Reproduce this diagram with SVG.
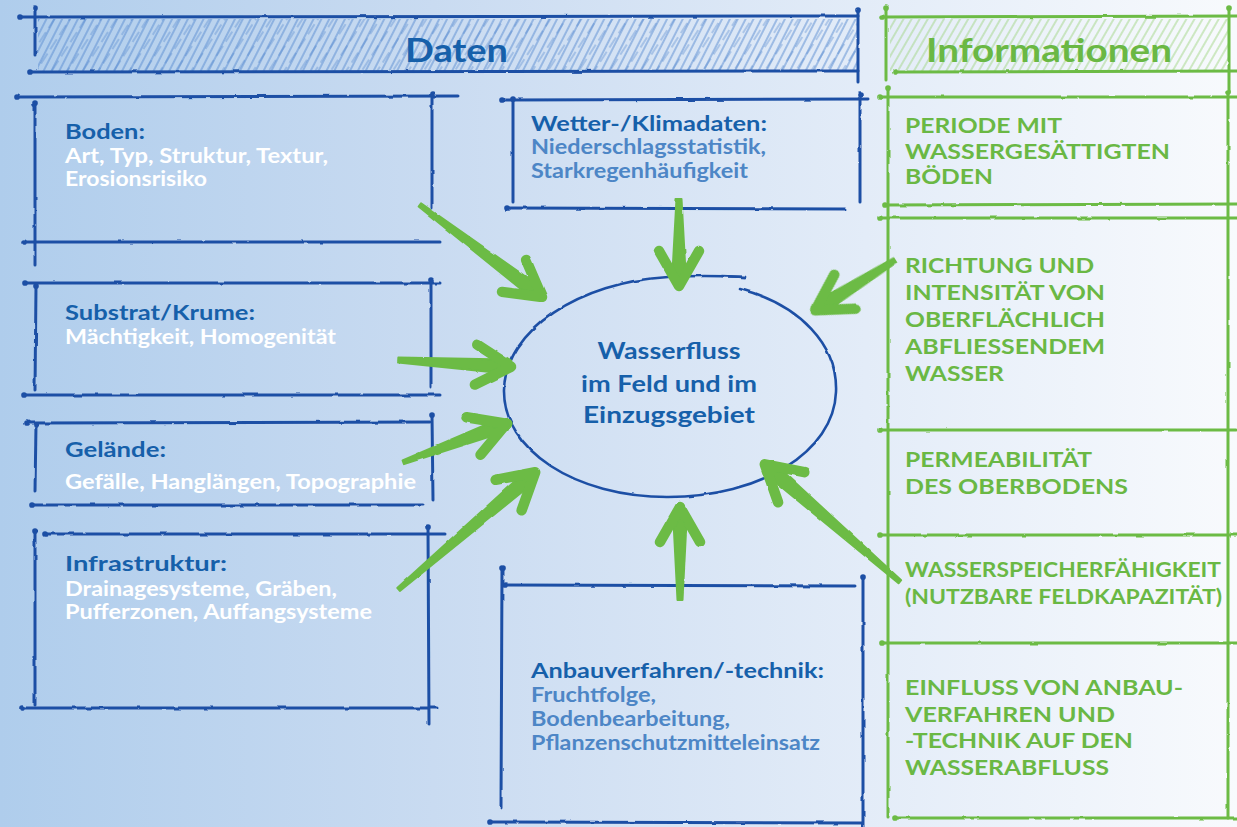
<svg xmlns="http://www.w3.org/2000/svg" xmlns:xlink="http://www.w3.org/1999/xlink" width="1237" height="827" viewBox="0 0 1237 827">
  <defs>
    <linearGradient id="bg" x1="0" y1="0" x2="1" y2="0">
      <stop offset="0" stop-color="#afcdec"/>
      <stop offset="0.35" stop-color="#c9dbf1"/>
      <stop offset="0.7" stop-color="#e3ecf8"/>
      <stop offset="1" stop-color="#f8fafd"/>
    </linearGradient>
    <!-- slightly wobbly pen strokes -->
    <filter id="rough" filterUnits="userSpaceOnUse" x="0" y="0" width="1237" height="827">
      <feTurbulence type="fractalNoise" baseFrequency="0.07" numOctaves="2" seed="4"/>
      <feDisplacementMap in="SourceGraphic" scale="2.4" xChannelSelector="R" yChannelSelector="G"/>
    </filter>
    <marker id="blob-blue" viewBox="0 0 10 10" refX="5" refY="5" markerWidth="1.9" markerHeight="1.9" markerUnits="strokeWidth">
      <circle cx="5" cy="5" r="5" fill="#1f50a5"/>
    </marker>
    <marker id="blob-green" viewBox="0 0 10 10" refX="5" refY="5" markerWidth="1.9" markerHeight="1.9" markerUnits="strokeWidth">
      <circle cx="5" cy="5" r="5" fill="#6cbb45"/>
    </marker>
    <pattern id="hatch-blue" width="7" height="10" patternUnits="userSpaceOnUse" patternTransform="rotate(27)">
      <line x1="1" y1="0" x2="1" y2="10" stroke="#5689d0" stroke-width="1.2" stroke-opacity="0.8"/>
    </pattern>
    <pattern id="hatch-blue2" width="13" height="17" patternUnits="userSpaceOnUse" patternTransform="rotate(33)">
      <line x1="4" y1="2" x2="4" y2="14" stroke="#4a80cb" stroke-width="1.1" stroke-opacity="0.6"/>
    </pattern>
    <pattern id="hatch-green" width="7" height="10" patternUnits="userSpaceOnUse" patternTransform="rotate(30)">
      <line x1="1" y1="0" x2="1" y2="10" stroke="#9bd27a" stroke-width="1.2" stroke-opacity="0.75"/>
    </pattern>
    <g id="arrowhead">
      <path d="M-40,-20 L-5,0 L-40,20" fill="none" stroke="#6cbb45" stroke-width="10.5" stroke-linecap="round" stroke-linejoin="round"/>
    </g>
    <style>
      .bl { fill: none; stroke: #1f50a5; stroke-width: 3; stroke-linecap: round; marker-start: url(#blob-blue); }
      .gl { fill: none; stroke: #6cbb45; stroke-width: 3; stroke-linecap: round; marker-start: url(#blob-green); }
      .ell { fill: none; stroke: #1f50a5; stroke-width: 2.6; stroke-linecap: round; }
      .shaft { fill: #6cbb45; stroke: #6cbb45; stroke-width: 2; stroke-linejoin: round; }
      text { font-family: Lato, "Open Sans", "Liberation Sans", sans-serif; font-weight: 700; }
      .hd { fill: #1660aa; font-size: 21.5px; }
      .hd2 { fill: #1660aa; font-size: 21px; }
      .wt { fill: #ffffff; font-size: 20px; }
      .lb { fill: #4d86c6; font-size: 20px; }
      .ct { fill: #1660aa; font-size: 22.5px; text-anchor: middle; }
      .gr { fill: #6ab844; font-size: 20.5px; }
      .title-d { fill: #1660aa; font-size: 33px; }
      .title-i { fill: #6ab844; font-size: 33px; }
    </style>
  </defs>

  <rect x="0" y="0" width="1237" height="827" fill="url(#bg)"/>

  <!-- column header: Daten -->
  <g id="header-daten">
    <rect x="38" y="19" width="820" height="52" fill="url(#hatch-blue)"/>
    <rect x="38" y="19" width="820" height="52" fill="url(#hatch-blue2)"/>
    <g filter="url(#rough)">
      <path class="bl" d="M20,17 L858,16"/>
      <path class="bl" d="M35,8 L35,55" stroke-width="4"/>
      <path class="bl" d="M30,72 L858,71"/>
      <path class="bl" d="M858,10 L858,82"/>
    </g>
    <text class="title-d" x="405" y="62" textLength="103" lengthAdjust="spacingAndGlyphs">Daten</text>
  </g>

  <!-- column header: Informationen -->
  <g id="header-informationen">
    <rect x="890" y="19" width="338" height="52" fill="url(#hatch-green)"/>
    <g filter="url(#rough)">
      <path class="gl" d="M886,8 L886,80"/>
      <path class="gl" d="M882,17 L1237,16"/>
      <path class="gl" d="M895,72 L1237,71"/>
      <path class="gl" d="M1229,8 L1229,92"/>
    </g>
    <text class="title-i" x="926" y="62" textLength="246" lengthAdjust="spacingAndGlyphs">Informationen</text>
  </g>

  <!-- data sources, left column -->
  <g id="node-boden">
    <g filter="url(#rough)">
      <path class="bl" d="M17,97 L458,96"/>
      <path class="bl" d="M35,103 L35,265"/>
      <path class="bl" d="M432,94 L432,208"/>
      <path class="bl" d="M24,242 L440,242"/>
    </g>
    <text class="hd" x="65" y="139" textLength="80" lengthAdjust="spacingAndGlyphs">Boden:</text>
    <text class="wt" x="65" y="163" textLength="263" lengthAdjust="spacingAndGlyphs">Art, Typ, Struktur, Textur,</text>
    <text class="wt" x="65" y="186" textLength="142" lengthAdjust="spacingAndGlyphs">Erosionsrisiko</text>
  </g>

  <g id="node-substrat">
    <g filter="url(#rough)">
      <path class="bl" d="M25,283 L440,283"/>
      <path class="bl" d="M36,286 L35,390"/>
      <path class="bl" d="M431,280 L431,387"/>
      <path class="bl" d="M24,395 L440,395"/>
    </g>
    <text class="hd" x="65" y="320" textLength="190" lengthAdjust="spacingAndGlyphs">Substrat/Krume:</text>
    <text class="wt" x="65" y="344" textLength="271" lengthAdjust="spacingAndGlyphs">Mächtigkeit, Homogenität</text>
  </g>

  <g id="node-gelaende">
    <g filter="url(#rough)">
      <path class="bl" d="M27,423 L430,422"/>
      <path class="bl" d="M36,425 L35,492"/>
      <path class="bl" d="M432,415 L433,500"/>
      <path class="bl" d="M32,505 L423,505"/>
    </g>
    <text class="hd" x="65" y="457" textLength="101" lengthAdjust="spacingAndGlyphs">Gelände:</text>
    <text class="wt" x="65" y="489" textLength="351" lengthAdjust="spacingAndGlyphs">Gefälle, Hanglängen, Topographie</text>
  </g>

  <g id="node-infrastruktur">
    <g filter="url(#rough)">
      <path class="bl" d="M45,534 L445,534"/>
      <path class="bl" d="M35,531 L35,705"/>
      <path class="bl" d="M428,527 L429,724"/>
      <path class="bl" d="M22,708 L437,708"/>
    </g>
    <text class="hd" x="65" y="571" textLength="162" lengthAdjust="spacingAndGlyphs">Infrastruktur:</text>
    <text class="wt" x="65" y="596" textLength="272" lengthAdjust="spacingAndGlyphs">Drainagesysteme, Gräben,</text>
    <text class="wt" x="65" y="619" textLength="307" lengthAdjust="spacingAndGlyphs">Pufferzonen, Auffangsysteme</text>
  </g>

  <!-- data sources, middle column -->
  <g id="node-wetter">
    <g filter="url(#rough)">
      <path class="bl" d="M502,100 L868,99"/>
      <path class="bl" d="M513,99 L513,202"/>
      <path class="bl" d="M860,95 L860,202"/>
      <path class="bl" d="M508,208 L845,209"/>
    </g>
    <text class="hd2" x="531" y="131" textLength="236" lengthAdjust="spacingAndGlyphs">Wetter-/Klimadaten:</text>
    <text class="lb" x="531" y="154" textLength="235" lengthAdjust="spacingAndGlyphs">Niederschlagsstatistik,</text>
    <text class="lb" x="531" y="178" textLength="217" lengthAdjust="spacingAndGlyphs">Starkregenhäufigkeit</text>
  </g>

  <g id="node-anbau">
    <g filter="url(#rough)">
      <path class="bl" d="M502,568 L501,808"/>
      <path class="bl" d="M505,585 L855,586"/>
      <path class="bl" d="M863,577 L863,827"/>
      <path class="bl" d="M490,822 L862,823"/>
    </g>
    <text class="hd2" x="531" y="678" textLength="293" lengthAdjust="spacingAndGlyphs">Anbauverfahren/-technik:</text>
    <text class="lb" x="531" y="702" textLength="125" lengthAdjust="spacingAndGlyphs">Fruchtfolge,</text>
    <text class="lb" x="531" y="726" textLength="199" lengthAdjust="spacingAndGlyphs">Bodenbearbeitung,</text>
    <text class="lb" x="531" y="750" textLength="289" lengthAdjust="spacingAndGlyphs">Pflanzenschutzmitteleinsatz</text>
  </g>

  <!-- central topic -->
  <g id="node-wasserfluss">
    <g filter="url(#rough)">
      <path class="ell" d="M740,289 C800,305 838,345 836,392 C834,452 760,497 668,497 C575,497 503,450 504,390 C505,330 580,282 668,277 C700,275 725,276 745,277"/>
      <path class="ell" d="M722,276 L745,277" stroke-width="4.5"/>
    </g>
    <text class="ct" x="669" y="359" textLength="143" lengthAdjust="spacingAndGlyphs">Wasserfluss</text>
    <text class="ct" x="669" y="392" textLength="176" lengthAdjust="spacingAndGlyphs">im Feld und im</text>
    <text class="ct" x="669" y="423" textLength="172" lengthAdjust="spacingAndGlyphs">Einzugsgebiet</text>
  </g>

  <!-- derived information, right column -->
  <g id="info-frame" filter="url(#rough)">
    <path class="gl" d="M888,88 L888,817"/>
    <path class="gl" d="M1228,92 L1228,818"/>
  </g>

  <g id="info-periode">
    <g filter="url(#rough)">
      <path class="gl" d="M880,97 L1237,97"/>
      <path class="gl" d="M885,205 L1237,204"/>
    </g>
    <text class="gr" x="905" y="133" textLength="157" lengthAdjust="spacingAndGlyphs">PERIODE MIT</text>
    <text class="gr" x="905" y="159" textLength="265" lengthAdjust="spacingAndGlyphs">WASSERGESÄTTIGTEN</text>
    <text class="gr" x="905" y="184" textLength="88" lengthAdjust="spacingAndGlyphs">BÖDEN</text>
  </g>

  <g id="info-richtung">
    <g filter="url(#rough)">
      <path class="gl" d="M880,218 L1237,218"/>
      <path class="gl" d="M880,430 L1237,430"/>
    </g>
    <text class="gr" x="905" y="273" textLength="189" lengthAdjust="spacingAndGlyphs">RICHTUNG UND</text>
    <text class="gr" x="905" y="300" textLength="200" lengthAdjust="spacingAndGlyphs">INTENSITÄT VON</text>
    <text class="gr" x="905" y="327" textLength="200" lengthAdjust="spacingAndGlyphs">OBERFLÄCHLICH</text>
    <text class="gr" x="905" y="354" textLength="200" lengthAdjust="spacingAndGlyphs">ABFLIESSENDEM</text>
    <text class="gr" x="905" y="381" textLength="99" lengthAdjust="spacingAndGlyphs">WASSER</text>
  </g>

  <g id="info-permeabilitaet">
    <g filter="url(#rough)">
      <path class="gl" d="M880,535 L1237,535"/>
    </g>
    <text class="gr" x="905" y="467" textLength="187" lengthAdjust="spacingAndGlyphs">PERMEABILITÄT</text>
    <text class="gr" x="905" y="494" textLength="223" lengthAdjust="spacingAndGlyphs">DES OBERBODENS</text>
  </g>

  <g id="info-wasserspeicher">
    <g filter="url(#rough)">
      <path class="gl" d="M882,643 L1237,643"/>
    </g>
    <text class="gr" x="905" y="577" textLength="316" lengthAdjust="spacingAndGlyphs">WASSERSPEICHERFÄHIGKEIT</text>
    <text class="gr" x="905" y="604" textLength="317" lengthAdjust="spacingAndGlyphs">(NUTZBARE FELDKAPAZITÄT)</text>
  </g>

  <g id="info-einfluss">
    <g filter="url(#rough)">
      <path class="gl" d="M895,818 L1237,818"/>
    </g>
    <text class="gr" x="905" y="695" textLength="278" lengthAdjust="spacingAndGlyphs">EINFLUSS VON ANBAU-</text>
    <text class="gr" x="905" y="722" textLength="210" lengthAdjust="spacingAndGlyphs">VERFAHREN UND</text>
    <text class="gr" x="905" y="748" textLength="228" lengthAdjust="spacingAndGlyphs">-TECHNIK AUF DEN</text>
    <text class="gr" x="905" y="775" textLength="204" lengthAdjust="spacingAndGlyphs">WASSERABFLUSS</text>
  </g>

  <!-- arrows into the central topic -->
  <g id="connectors" filter="url(#rough)">
    <g transform="translate(546,300) rotate(37)">
      <path class="shaft" d="M-158,-2 L-10,-7 L-10,7 L-158,2 Z"/>
      <use xlink:href="#arrowhead"/>
    </g>
    <g transform="translate(679,291) rotate(90)">
      <path class="shaft" d="M-92,-2.5 L-10,-7 L-10,7 L-92,2.5 Z"/>
      <use xlink:href="#arrowhead"/>
    </g>
    <g transform="translate(516,367) rotate(3.4)">
      <path class="shaft" d="M-118,-2.5 L-10,-7 L-10,7 L-118,2.5 Z"/>
      <use xlink:href="#arrowhead"/>
    </g>
    <g transform="translate(511,422) rotate(-20.5)">
      <path class="shaft" d="M-115,-2 L-10,-7 L-10,7 L-115,2 Z"/>
      <use xlink:href="#arrowhead"/>
    </g>
    <g transform="translate(539,469) rotate(-40.6)">
      <path class="shaft" d="M-185,-2 L-10,-7 L-10,7 L-185,2 Z"/>
      <use xlink:href="#arrowhead"/>
    </g>
    <g transform="translate(680,502) rotate(-90)">
      <path class="shaft" d="M-98,-2.5 L-10,-7 L-10,7 L-98,2.5 Z"/>
      <use xlink:href="#arrowhead"/>
    </g>
    <g transform="translate(811,313) rotate(147.9)">
      <path class="shaft" d="M-99,-2.5 L-10,-7 L-10,7 L-99,2.5 Z"/>
      <use xlink:href="#arrowhead"/>
    </g>
    <g transform="translate(761,461) rotate(-139)">
      <path class="shaft" d="M-184,-2 L-10,-7 L-10,7 L-184,2 Z"/>
      <use xlink:href="#arrowhead"/>
    </g>
  </g>
</svg>
